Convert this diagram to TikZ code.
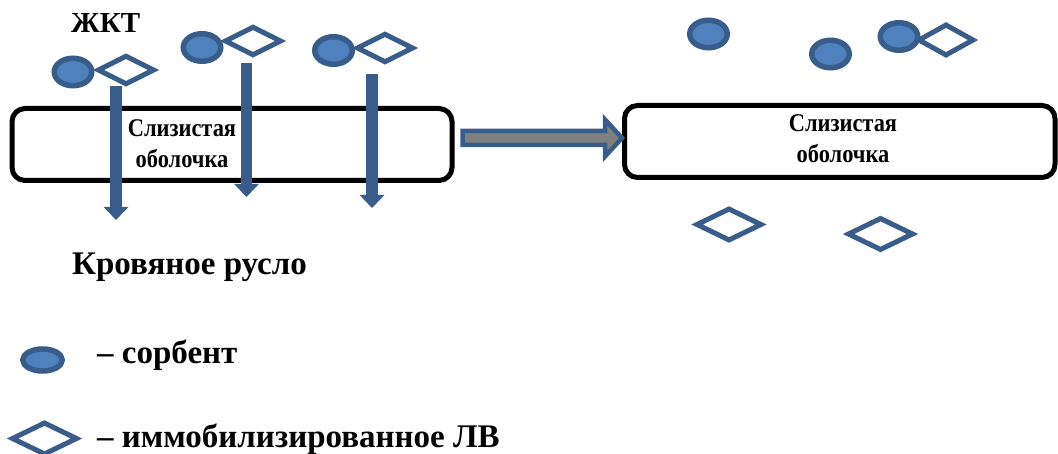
\documentclass[tikz,border=0pt]{standalone}
\usepackage{fontspec}
\setmainfont{Liberation Serif}
\usetikzlibrary{shapes.geometric,arrows.meta,calc}
\definecolor{sorbfill}{HTML}{4F81BD}
\definecolor{navyline}{HTML}{385D8A}
\definecolor{arrowgray}{HTML}{808080}
\tikzset{
  membrane/.style={draw=black, line width=5pt, rounded corners=13pt, inner sep=0pt},
  sorbent/.style={ellipse, draw=navyline, fill=sorbfill, line width=5.5pt, inner sep=0pt,
                  minimum width=37.5pt, minimum height=27.5pt},
  drug/.style={diamond, draw=navyline, fill=white, line width=5pt, inner sep=0pt,
               minimum width=57pt, minimum height=29.5pt},
  drugbig/.style={drug, minimum width=66pt, minimum height=33pt},
  flow/.style={draw=navyline, line width=11.5pt,
               -{Triangle[length=13pt,width=24pt]}},
  bigarrow/.style={draw=navyline, fill=arrowgray, line width=4.5pt, line join=miter},
  boxtext/.style={inner sep=0pt, anchor=base, xscale=0.88,
                  font=\bfseries\fontsize{25.5}{25.5}\selectfont},
  label/.style={inner sep=0pt, anchor=base west, font=\bfseries\fontsize{33}{33}\selectfont},
}
\begin{document}
\begin{tikzpicture}[x=1pt, y=-1pt]
\useasboundingbox (0,0) rectangle (1058,454);

% mucous membrane, before and after
\node[membrane, minimum width=440pt, minimum height=72pt] (lbox) at (232,144.5) {};
\node[membrane, minimum width=430.5pt, minimum height=72pt] (rbox) at (839.75,141.5) {};

\node[boxtext] (lt1) at (182,137) {Слизистая};
\node[boxtext] (lt2) at (182,168) {оболочка};
\node[boxtext] (rt1) at (843,132) {Слизистая};
\node[boxtext] (rt2) at (843,163) {оболочка};

% transition arrow between the two states
\coordinate (a0) at ($(lbox.east)+(8,-6.5)$);
\coordinate (a1) at ($(rbox.west)+(0,-3.5)$);
\draw[bigarrow] ($(a0)+(0,-7)$) -- ($(a1)+(-17,-7)$) -- ($(a1)+(-17,-18.5)$) -- (a1)
  -- ($(a1)+(-17,18.5)$) -- ($(a1)+(-17,7)$) -- ($(a0)+(0,7)$) -- cycle;

% passage through the membrane into the bloodstream
\coordinate (s1) at (116,86);   \coordinate (e1) at (116,220);
\coordinate (s2) at (246.5,63); \coordinate (e2) at (246.5,197);
\coordinate (s3) at (372,74);   \coordinate (e3) at (372,208);
\draw[flow] (s1) -- (e1);
\draw[flow] (s2) -- (e2);
\draw[flow] (s3) -- (e3);

% sorbent with immobilised drug, in the lumen
\node[drug] (d1) at (126,70) {};
\node[sorbent] (c1) at (73,72) {};
\node[drug] (d2) at (253,41) {};
\node[sorbent] (c2) at (202,47.5) {};
\node[drug] (d3) at (385,48) {};
\node[sorbent] (c3) at (333.5,50.5) {};

% after release
\node[sorbent] (c4) at (708.5,34) {};
\node[sorbent] (c5) at (830.5,54) {};
\node[drug, minimum width=56pt, minimum height=32pt] (d6) at (946,40) {};
\node[sorbent] (c6) at (899,36.5) {};
\node[drugbig] (d7) at (729,224.5) {};
\node[drugbig] (d8) at (880.5,234) {};

% labels
\node[label, font=\bfseries\fontsize{29}{29}\selectfont] (gut) at (71,33) {ЖКТ};
\node[label] (blood) at (72,275) {Кровяное русло};

% legend
\node[sorbent, minimum width=39.5pt, minimum height=22pt] (lc) at (42.5,360) {};
\node[label] (lct) at (97,363) {– сорбент};
\node[drugbig] (ld) at (44.5,438.5) {};
\node[label] (ldt) at (97,447.5) {– иммобилизированное ЛВ};
\end{tikzpicture}
\end{document}
